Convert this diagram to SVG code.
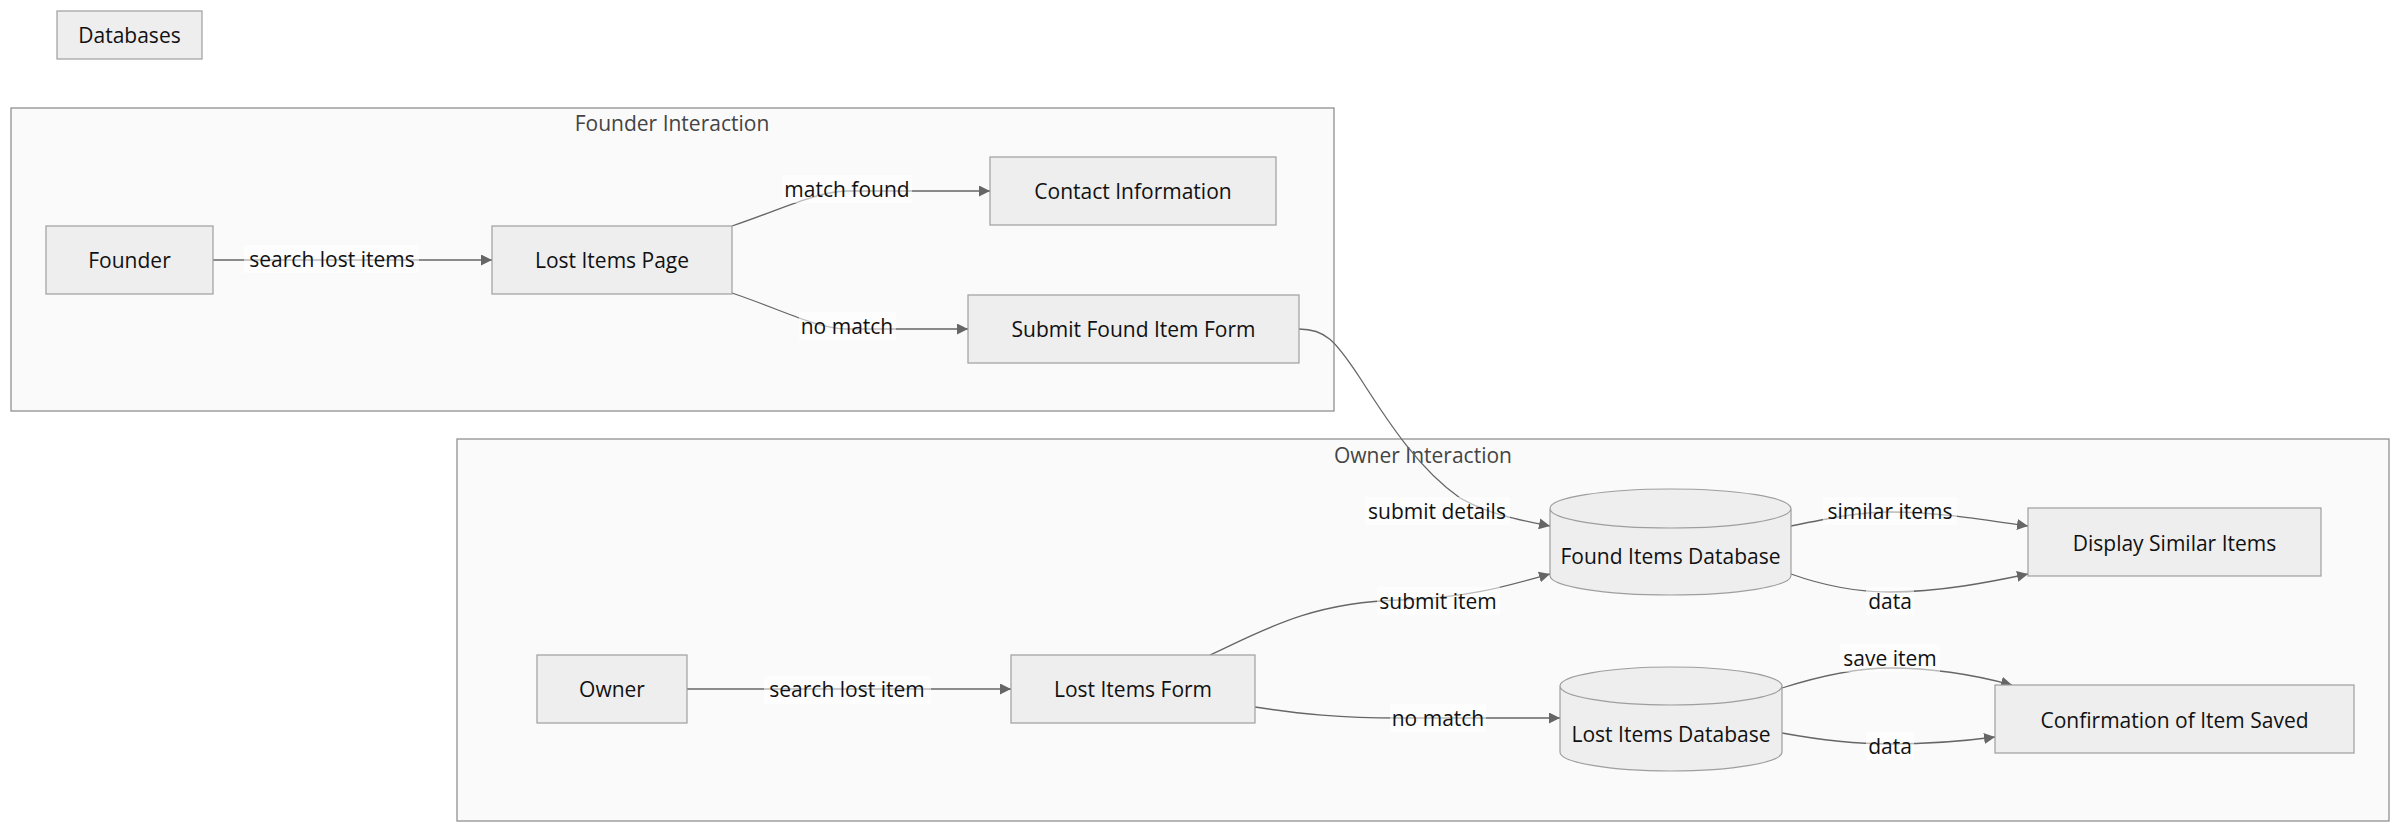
<svg xmlns="http://www.w3.org/2000/svg" width="2400" height="832" viewBox="0 0 2400 832">
<defs>
<marker id="arrow" viewBox="0 0 10 10" refX="10" refY="5" markerWidth="11" markerHeight="11" markerUnits="userSpaceOnUse" orient="auto">
<path d="M0,0 L10,5 L0,10 z" fill="#666"/>
</marker>
<style>
.cluster{fill:#fafafa;stroke:#888;stroke-width:1.2}
.ctitle{font-family:"Open Sans","DejaVu Sans",sans-serif;font-size:21px;fill:#444;text-anchor:middle;dominant-baseline:central}
.node{fill:#eeeeee;stroke:#9e9e9e;stroke-width:1.2}
.ntext{font-family:"Open Sans","DejaVu Sans",sans-serif;font-size:21px;fill:#111;text-anchor:middle;dominant-baseline:central}
.edge{fill:none;stroke:#666;stroke-width:1.3;marker-end:url(#arrow)}
.lbg{fill:#ffffff;fill-opacity:0.55}
.ltext{font-family:"Open Sans","DejaVu Sans",sans-serif;font-size:21px;fill:#111;text-anchor:middle;dominant-baseline:central}
</style>
</defs>
<rect width="2400" height="832" fill="#ffffff"/>

<g id="cluster-founder">
<rect class="cluster" x="11" y="108" width="1323" height="303"/>
<text class="ctitle" x="672" y="123">Founder Interaction</text>
</g>
<g id="cluster-owner">
<rect class="cluster" x="457" y="439" width="1932" height="382"/>
<text class="ctitle" x="1423" y="455">Owner Interaction</text>
</g>

<g id="connectors">
<path class="edge" d="M213,260 L492,260"/>
<path class="edge" d="M732,226 C785,208 815,192 847,191 L990,191"/>
<path class="edge" d="M732,293 C785,311 815,328 847,329 L968,329"/>
<path class="edge" d="M1299,329 C1325,329 1335,340 1360,378 C1390,425 1420,470 1460,498 C1490,515 1520,520 1550,526"/>
<path class="edge" d="M687,689 L1011,689"/>
<path class="edge" d="M1210,655 C1260,632 1310,602 1400,600 C1470,598 1510,585 1550,574"/>
<path class="edge" d="M1255,707 C1300,714 1340,718 1400,718 L1560,718"/>
<path class="edge" d="M1791,526 C1830,518 1860,512 1890,512 C1940,512 1990,521 2028,526"/>
<path class="edge" d="M1791,574 C1830,588 1860,592 1890,592 C1940,592 1990,582 2028,574"/>
<path class="edge" d="M1782,688 C1820,676 1855,668 1890,668 C1935,668 1975,675 2012,685"/>
<path class="edge" d="M1782,733 C1820,740 1860,744 1890,744 C1930,744 1965,741 1995,737"/>

<g id="edge-labels">
<rect class="lbg" x="244" y="245" width="175" height="28"/>
<text class="ltext" x="332" y="259">search lost items</text>
<rect class="lbg" x="782" y="175" width="130" height="28"/>
<text class="ltext" x="847" y="189">match found</text>
<rect class="lbg" x="799" y="312" width="97" height="28"/>
<text class="ltext" x="847" y="326">no match</text>
<rect class="lbg" x="764" y="676" width="167" height="28"/>
<text class="ltext" x="847" y="689">search lost item</text>
<rect class="lbg" x="1365" y="497" width="145" height="28"/>
<text class="ltext" x="1437" y="511">submit details</text>
<rect class="lbg" x="1377" y="587" width="123" height="28"/>
<text class="ltext" x="1438" y="601">submit item</text>
<rect class="lbg" x="1390" y="704" width="96" height="28"/>
<text class="ltext" x="1438" y="718">no match</text>
<rect class="lbg" x="1823" y="497" width="134" height="28"/>
<text class="ltext" x="1890" y="511">similar items</text>
<rect class="lbg" x="1866" y="587" width="48" height="28"/>
<text class="ltext" x="1890" y="601">data</text>
<rect class="lbg" x="1840" y="644" width="100" height="28"/>
<text class="ltext" x="1890" y="658">save item</text>
<rect class="lbg" x="1866" y="732" width="48" height="28"/>
<text class="ltext" x="1890" y="746">data</text>
</g>
</g>

<g id="node-databases">
<rect class="node" x="57" y="11" width="145" height="48"/>
<text class="ntext" x="129.5" y="35">Databases</text>
</g>
<g id="node-founder">
<rect class="node" x="46" y="226" width="167" height="68"/>
<text class="ntext" x="129.5" y="260">Founder</text>
</g>
<g id="node-lost-items-page">
<rect class="node" x="492" y="226" width="240" height="68"/>
<text class="ntext" x="612" y="260">Lost Items Page</text>
</g>
<g id="node-contact-information">
<rect class="node" x="990" y="157" width="286" height="68"/>
<text class="ntext" x="1133" y="191">Contact Information</text>
</g>
<g id="node-submit-found-item-form">
<rect class="node" x="968" y="295" width="331" height="68"/>
<text class="ntext" x="1133.5" y="329">Submit Found Item Form</text>
</g>
<g id="node-owner">
<rect class="node" x="537" y="655" width="150" height="68"/>
<text class="ntext" x="612" y="689">Owner</text>
</g>
<g id="node-lost-items-form">
<rect class="node" x="1011" y="655" width="244" height="68"/>
<text class="ntext" x="1133" y="689">Lost Items Form</text>
</g>
<g id="node-found-items-database">
<path class="node" d="M1550,508.5 a120.5,19.5 0 0 0 241,0 a120.5,19.5 0 0 0 -241,0 l0,67 a120.5,19.5 0 0 0 241,0 l0,-67"/>
<text class="ntext" x="1670.5" y="556">Found Items Database</text>
</g>
<g id="node-lost-items-database">
<path class="node" d="M1560,686 a111,19 0 0 0 222,0 a111,19 0 0 0 -222,0 l0,66 a111,19 0 0 0 222,0 l0,-66"/>
<text class="ntext" x="1671" y="734">Lost Items Database</text>
</g>
<g id="node-display-similar-items">
<rect class="node" x="2028" y="508" width="293" height="68"/>
<text class="ntext" x="2174.5" y="543">Display Similar Items</text>
</g>
<g id="node-confirmation">
<rect class="node" x="1995" y="685" width="359" height="68"/>
<text class="ntext" x="2174.5" y="720">Confirmation of Item Saved</text>
</g>
</svg>
